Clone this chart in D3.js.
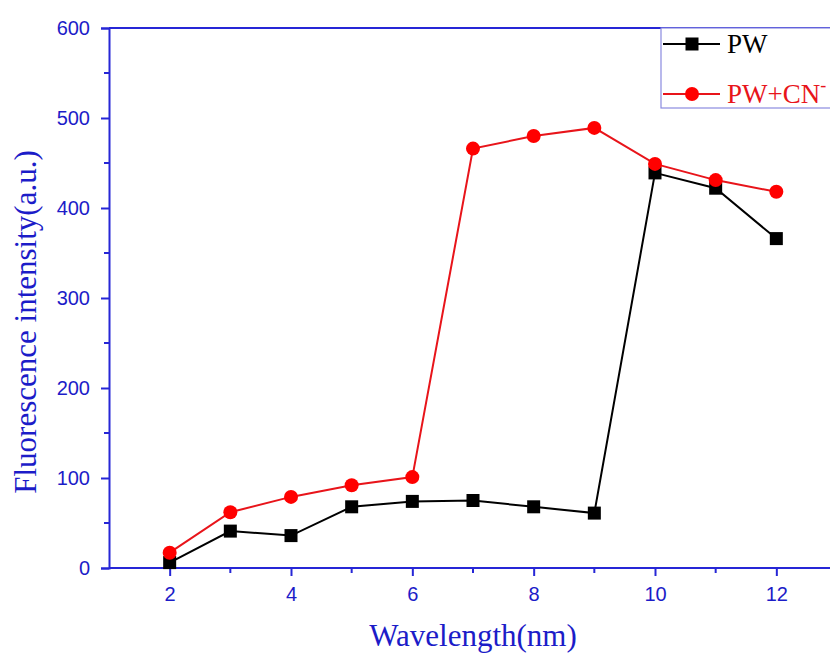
<!DOCTYPE html>
<html>
<head>
<meta charset="utf-8">
<script src="https://d3js.org/d3.v7.min.js"></script>
<style>
  body { margin: 0; background: #fff; }
  svg { display: block; }
</style>
</head>
<body>
<div id="chart-container"></div>
<script>
// Data
const wavelengths = [2, 3, 4, 5, 6, 7, 8, 9, 10, 11, 12];
const pwValues = [6, 41, 36, 68, 74, 75, 68, 61, 439, 422, 366];
const pwCnValues = [17, 62, 79, 92, 101, 466, 480, 489, 449, 431, 418];
const xTickValues = [2, 4, 6, 8, 10, 12];
const yTickValues = [0, 100, 200, 300, 400, 500, 600];

const axisColor = '#2626d6';
const labelColor = '#1c1cc8';

function createChart() {
  const width = 830;
  const height = 658;
  const margin = { top: 28, right: -7, bottom: 90, left: 109 };

  const svg = d3.create('svg')
    .attr('width', width)
    .attr('height', height);

  const x = d3.scaleLinear()
    .domain([1, 13])
    .range([margin.left, width - margin.right]);

  const y = d3.scaleLinear()
    .domain([0, 600])
    .range([height - margin.bottom, margin.top]);

  // frame top line
  svg.append('line')
    .attr('x1', margin.left).attr('x2', width)
    .attr('y1', y(600)).attr('y2', y(600))
    .attr('stroke', axisColor).attr('stroke-width', 2);

  // x axis
  const xAxis = svg.append('g')
    .attr('transform', `translate(0,${y(0)})`)
    .call(d3.axisBottom(x).tickValues(xTickValues).tickSize(8).tickPadding(11).tickFormat(d3.format('d')));
  xAxis.append('g')
    .selectAll('line')
    .data([3, 5, 7, 9, 11])
    .join('line')
    .attr('x1', d => x(d)).attr('x2', d => x(d))
    .attr('y1', 0).attr('y2', 5);

  // y axis
  const yAxis = svg.append('g')
    .attr('transform', `translate(${margin.left},0)`)
    .call(d3.axisLeft(y).tickValues(yTickValues).tickSize(8).tickPadding(11));
  yAxis.append('g')
    .selectAll('line')
    .data([50, 150, 250, 350, 450, 550])
    .join('line')
    .attr('x1', 0).attr('x2', -5)
    .attr('y1', d => y(d)).attr('y2', d => y(d));

  [xAxis, yAxis].forEach(ax => {
    ax.select('.domain').attr('stroke', axisColor).attr('stroke-width', 2);
    ax.selectAll('line').attr('stroke', axisColor).attr('stroke-width', 2);
    ax.selectAll('text')
      .attr('fill', labelColor)
      .style('font-family', '"Liberation Sans", Arial, sans-serif')
      .style('font-size', '20px');
  });
  xAxis.select('.domain').attr('d', `M${margin.left},0H${width}`);

  // axis titles
  svg.append('text')
    .attr('x', 473).attr('y', 646)
    .attr('text-anchor', 'middle')
    .attr('fill', labelColor)
    .style('font-family', '"Liberation Serif", "Times New Roman", serif')
    .style('font-size', '31px')
    .text('Wavelength(nm)');

  svg.append('text')
    .attr('transform', `translate(36,322) rotate(-90)`)
    .attr('text-anchor', 'middle')
    .attr('fill', labelColor)
    .style('font-family', '"Liberation Serif", "Times New Roman", serif')
    .style('font-size', '31px')
    .text('Fluorescence intensity(a.u.)');

  const line = d3.line()
    .x((d, i) => x(wavelengths[i]))
    .y(d => y(d));

  // PW series
  svg.append('path')
    .datum(pwValues)
    .attr('fill', 'none')
    .attr('stroke', '#000')
    .attr('stroke-width', 2)
    .attr('d', line);
  svg.append('g')
    .selectAll('rect')
    .data(pwValues)
    .join('rect')
    .attr('x', (d, i) => x(wavelengths[i]) - 6.5)
    .attr('y', d => y(d) - 6.5)
    .attr('width', 13).attr('height', 13)
    .attr('fill', '#000');

  // PW+CN- series
  svg.append('path')
    .datum(pwCnValues)
    .attr('fill', 'none')
    .attr('stroke', '#e8141a')
    .attr('stroke-width', 2)
    .attr('d', line);
  svg.append('g')
    .selectAll('circle')
    .data(pwCnValues)
    .join('circle')
    .attr('cx', (d, i) => x(wavelengths[i]))
    .attr('cy', d => y(d))
    .attr('r', 7)
    .attr('fill', '#ff0000');

  // legend
  const legend = svg.append('g');
  legend.append('rect')
    .attr('x', 661).attr('y', 28)
    .attr('width', 180).attr('height', 80)
    .attr('fill', 'white')
    .attr('stroke', '#8a8ae0')
    .attr('stroke-width', 1.2);

  const legendItems = [
    { name: 'PW', color: '#000', marker: 'square', yPos: 44 },
    { name: 'PW+CN', color: '#e8141a', marker: 'circle', yPos: 94 }
  ];
  legendItems.forEach(item => {
    legend.append('line')
      .attr('x1', 663).attr('x2', 720)
      .attr('y1', item.yPos).attr('y2', item.yPos)
      .attr('stroke', item.color).attr('stroke-width', 2);
    if (item.marker === 'square') {
      legend.append('rect')
        .attr('x', 685.5).attr('y', item.yPos - 6.5)
        .attr('width', 13).attr('height', 13)
        .attr('fill', '#000');
    } else {
      legend.append('circle')
        .attr('cx', 692).attr('cy', item.yPos)
        .attr('r', 7).attr('fill', '#ff0000');
    }
    const t = legend.append('text')
      .attr('x', 727).attr('y', item.yPos + 9)
      .attr('fill', item.color)
      .style('font-family', '"Liberation Serif", "Times New Roman", serif')
      .style('font-size', '27px')
      .text(item.name);
    if (item.marker === 'circle') {
      t.append('tspan')
        .attr('dy', -12)
        .style('font-size', '18px')
        .text('-');
    }
  });

  return svg.node();
}

document.getElementById('chart-container').appendChild(createChart());
</script>
</body>
</html>
